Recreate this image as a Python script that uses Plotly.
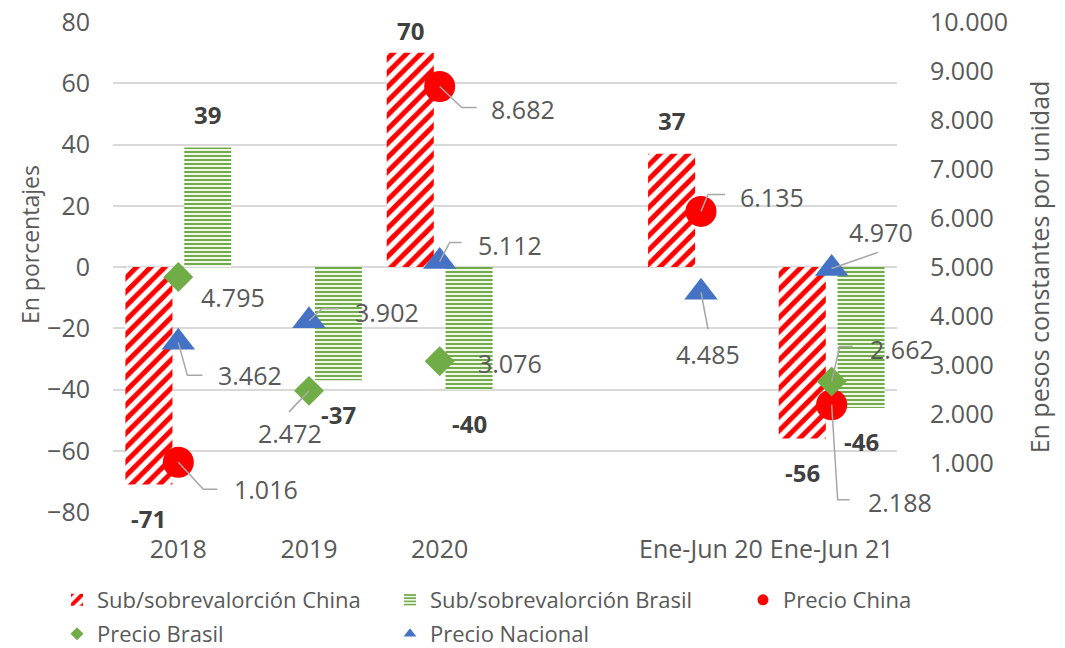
import plotly.graph_objects as go

# ---------------- data ----------------
categories = ["2018", "2019", "2020", "Ene-Jun 20", "Ene-Jun 21"]
cat_pos = [0, 1, 2, 4, 5]          # an empty slot between 2020 and Ene-Jun 20

sub_china = [-71, None, 70, 37, -56]
sub_brasil = [39, -37, -40, None, -46]

precio_china = [1016, None, 8682, 6135, 2188]
precio_brasil = [4795, 2472, 3076, None, 2662]
precio_nacional = [3462, 3902, 5112, 4485, 4970]

left_ticks = [-80, -60, -40, -20, 0, 20, 40, 60, 80]
right_ticks = [1000, 2000, 3000, 4000, 5000, 6000, 7000, 8000, 9000, 10000]
right_ticktext = ["1.000", "2.000", "3.000", "4.000", "5.000", "6.000", "7.000", "8.000", "9.000", "10.000"]

# label placement (pixel offsets from the marker, screen y down):
# (text dx, text dy, leader points list)
lbl_china = [(88, 27, [(25, 27), (39, 27)]), None, (83, 22, [(22, 21), (37, 21)]),
             (71, -14, [(7, -17), (24, -17)]), (68, 97, [(6, 95), (18, 95)])]
lbl_brasil = [(55, 20, []), (-19, 42, [(-20, 21)]), (70, 2, []), None,
              (70, -33, [(8, -35), (21, -35)])]
lbl_nacional = [(72, 33, [(9, 33), (24, 33)]), (78, -9, [(13, -12), (29, -12)]),
                (70, -17, [(10, -19), (22, -19)]), (7, 62, [(7, 37)]),
                (49, -36, [(46, -16)])]

RED = "#ff0000"
GREEN = "#70ad47"
BLUE = "#4472c4"
GREY_TXT = "#595959"
FONT = "Open Sans"

# plot-area geometry (px)
ML, MR, MT, MB = 113, 168, 22, 136
W, H = 1065, 648
PW, PH = W - ML - MR, H - MT - MB

fig = go.Figure()

red_pattern = dict(shape="/", fgcolor=RED, bgcolor="white", fgopacity=1, size=10, solidity=0.5)
green_pattern = dict(shape="-", fgcolor=GREEN, bgcolor="white", fgopacity=1, size=4, solidity=0.55)

BAR_W = 0.36
fig.add_trace(go.Bar(
    x=cat_pos, y=sub_china, name="Sub/sobrevalorción China",
    width=BAR_W, offset=-0.225 - BAR_W / 2,
    marker=dict(color="white", line=dict(width=0), pattern=red_pattern),
    yaxis="y", hoverinfo="skip", showlegend=False))
fig.add_trace(go.Bar(
    x=cat_pos, y=sub_brasil, name="Sub/sobrevalorción Brasil",
    width=BAR_W, offset=0.225 - BAR_W / 2,
    marker=dict(color="white", line=dict(width=0), pattern=green_pattern),
    yaxis="y", hoverinfo="skip", showlegend=False))

fig.add_trace(go.Scatter(
    x=cat_pos, y=precio_china, name="Precio China", mode="markers",
    marker=dict(symbol="circle", size=31, color=RED), yaxis="y2", showlegend=False))
fig.add_trace(go.Scatter(
    x=cat_pos, y=precio_brasil, name="Precio Brasil", mode="markers",
    marker=dict(symbol="diamond", size=23, color=GREEN), yaxis="y2", showlegend=False))
fig.add_trace(go.Scatter(
    x=cat_pos, y=precio_nacional, name="Precio Nacional", mode="markers",
    marker=dict(symbol="triangle-up", size=29, color=BLUE), yaxis="y2", showlegend=False))

# legend entries (each in its own legend so they can sit where the original puts them)
legend_items = [
    ("Sub/sobrevalorción China", "bar", red_pattern, None, 57, 600),
    ("Sub/sobrevalorción Brasil", "bar", green_pattern, None, 390, 600),
    ("Precio China", "scatter", None, dict(symbol="circle", size=11, color=RED), 743, 600),
    ("Precio Brasil", "scatter", None, dict(symbol="diamond", size=10, color=GREEN), 57, 634),
    ("Precio Nacional", "scatter", None, dict(symbol="triangle-up", size=11, color=BLUE), 390, 634),
]
legend_layouts = {}
for i, (name, kind, pat, mk, lx, ly) in enumerate(legend_items):
    lg = "legend" if i == 0 else f"legend{i + 1}"
    if kind == "bar":
        fig.add_trace(go.Bar(x=[None], y=[None], name=name, showlegend=True, legend=lg,
                             width=BAR_W, offset=0,
                             marker=dict(color="white", line=dict(width=0), pattern=pat)))
    else:
        fig.add_trace(go.Scatter(x=[None], y=[None], name=name, mode="markers",
                                 marker=mk, showlegend=True, yaxis="y2", legend=lg))
    legend_layouts[lg] = dict(
        x=(lx - ML) / PW, xanchor="left", y=-(ly - (MT + PH)) / PH, yanchor="middle",
        orientation="h", font=dict(family=FONT, size=22, color=GREY_TXT),
        bgcolor="rgba(0,0,0,0)", itemwidth=30)

annotations = []
shapes = []


def fmt(v):
    return f"{v:,.0f}".replace(",", ".")


for series, labels in ((precio_china, lbl_china), (precio_brasil, lbl_brasil),
                       (precio_nacional, lbl_nacional)):
    for xi, v, lab in zip(cat_pos, series, labels):
        if v is None or lab is None:
            continue
        dx, dy, pts = lab
        annotations.append(dict(x=xi, y=v, xref="x", yref="y2", text=fmt(v),
                                xshift=dx, yshift=-dy, showarrow=False,
                                font=dict(family=FONT, size=25, color=GREY_TXT)))
        if pts:
            path = "M0,0 " + " ".join(f"L{px},{-py}" for px, py in pts)
            shapes.append(dict(type="path", xref="x", yref="y2",
                               xsizemode="pixel", ysizemode="pixel",
                               xanchor=xi, yanchor=v, path=path, layer="above",
                               line=dict(color="#a6a6a6", width=1.5)))

# bar value labels
px_per_unit = PH / 160
for series, off in ((sub_china, -0.225), (sub_brasil, 0.225)):
    for xi, v in zip(cat_pos, series):
        if v is None:
            continue
        if v >= 0:
            shift = min(33, (80 - v) * px_per_unit - 8)
        else:
            shift = -34
        annotations.append(dict(x=xi + off, y=v, xref="x", yref="y", text=f"<b>{v}</b>",
                                yshift=shift, showarrow=False,
                                font=dict(family=FONT, size=24, color="#404040")))

# left axis title (placed like the original, a little above the centre)
annotations.append(dict(text="En porcentajes", textangle=-90, showarrow=False,
                        xref="paper", yref="paper",
                        x=(30 - ML) / PW, y=(MT + PH - 245) / PH,
                        xanchor="center", yanchor="middle",
                        font=dict(family=FONT, size=23, color=GREY_TXT)))

fig.update_layout(
    width=W, height=H,
    margin=dict(l=ML, r=MR, t=MT, b=MB, autoexpand=False),
    paper_bgcolor="white", plot_bgcolor="white",
    barmode="overlay",
    font=dict(family=FONT, color=GREY_TXT),
    showlegend=True,
    xaxis=dict(range=[-0.5, 5.5], tickvals=cat_pos, ticktext=categories,
               showgrid=False, zeroline=False, showline=False,
               tickfont=dict(family=FONT, size=25, color=GREY_TXT),
               ticks="", ticklabelstandoff=20),
    yaxis=dict(range=[-80, 80], tickvals=left_ticks, showgrid=True, gridcolor="#d9d9d9",
               gridwidth=1.5, zeroline=False, showline=False,
               tickfont=dict(family=FONT, size=25, color=GREY_TXT),
               ticklabelstandoff=22),
    yaxis2=dict(range=[0, 10000], overlaying="y", side="right", tickvals=right_ticks,
                ticktext=right_ticktext, showgrid=False, zeroline=False, showline=False,
                tickfont=dict(family=FONT, size=25, color=GREY_TXT),
                ticklabelstandoff=32,
                title=dict(text="En pesos constantes por unidad", standoff=24,
                           font=dict(family=FONT, size=25, color=GREY_TXT))),
    annotations=annotations,
    shapes=shapes,
    **legend_layouts,
)

fig.write_html("out.html", config={"displayModeBar": False},
               post_script="document.body.style.margin='0';document.body.style.overflow='hidden';")
